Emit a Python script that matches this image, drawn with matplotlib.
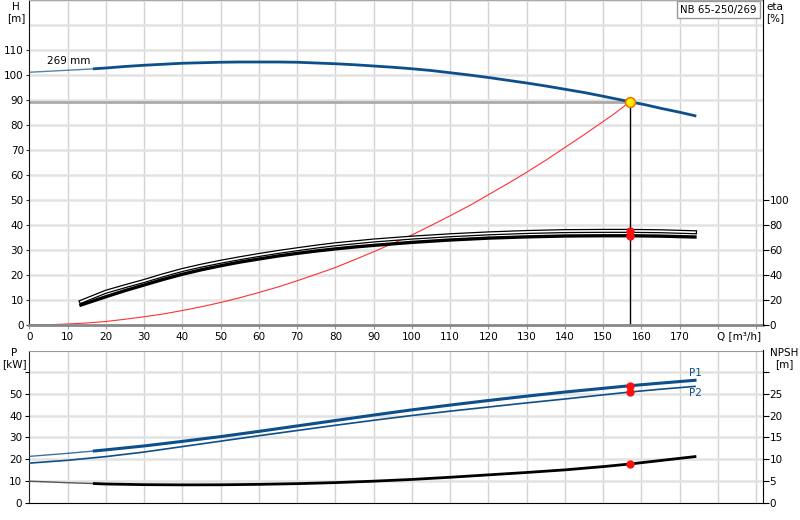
import matplotlib
matplotlib.use("Agg")
import numpy as np
import matplotlib.pyplot as plt

# head curve (m)
q_head = [0, 5, 10, 15, 17, 20, 25, 30, 35, 40, 45, 50, 55, 60, 65, 70, 75, 80, 85, 90, 95,
          100, 105, 110, 115, 120, 125, 130, 135, 140, 145, 150, 157, 161, 165, 170, 174]
head = [101.1, 101.5, 101.9, 102.3, 102.5, 102.8, 103.4, 103.9, 104.3, 104.7, 104.9, 105.1,
        105.2, 105.2, 105.2, 105.1, 104.8, 104.5, 104.1, 103.6, 103.1, 102.5, 101.8, 100.9,
        100.0, 99.0, 97.9, 96.8, 95.6, 94.3, 93.0, 91.5, 89.3, 88.1, 86.7, 85.1, 83.7]

# efficiency curves (%)
q_eta = [13.5, 20, 25, 30, 35, 40, 45, 50, 55, 60, 65, 70, 75, 80, 85, 90, 100, 110, 120,
         130, 140, 150, 157, 165, 174]
eta_upper = [18.6, 26.6, 31.0, 35.2, 39.8, 44.0, 47.5, 50.6, 53.4, 56.0, 58.4, 60.6, 62.7,
             64.6, 66.1, 67.6, 69.9, 71.8, 73.3, 74.4, 75.1, 75.3, 75.3, 75.0, 74.2]
eta_lower = [16.0, 22.6, 27.5, 32.0, 36.5, 40.6, 44.2, 47.4, 50.3, 52.8, 55.2, 57.3, 59.2,
             60.9, 62.4, 63.7, 66.1, 68.0, 69.5, 70.5, 71.2, 71.4, 71.4, 71.1, 70.4]

# system curve (m)
q_sys = [0, 5, 10, 15, 20, 25, 30, 35, 40, 45, 50, 55, 60, 65, 70, 75, 80, 85, 90, 95, 100,
         105, 110, 115, 120, 125, 130, 135, 140, 145, 150, 153, 157]
h_sys = [0, 0.1, 0.4, 0.8, 1.4, 2.3, 3.3, 4.4, 5.8, 7.3, 9.0, 10.9, 13.0, 15.2, 17.7, 20.3,
         23.0, 26.1, 29.3, 32.6, 36.0, 39.8, 43.7, 47.7, 52.1, 56.5, 61.1, 65.9, 71.0, 76.1,
         81.4, 84.6, 89.3]

# duty point
q_duty = 157
h_duty = 89.3
eta_duty = [75.3, 71.4]

# power (kW) and NPSH (m)
q_p = [0, 10, 17, 20, 30, 40, 50, 60, 70, 80, 90, 100, 110, 120, 130, 140, 150, 157, 165, 174]
p1 = [21.3, 22.7, 23.8, 24.3, 26.1, 28.2, 30.4, 32.8, 35.3, 37.8, 40.3, 42.7, 44.9, 47.0,
      49.0, 50.9, 52.6, 53.8, 55.0, 56.3]
p2 = [18.2, 19.5, 20.7, 21.2, 23.3, 25.8, 28.3, 30.8, 33.2, 35.6, 37.9, 40.1, 42.1, 44.0,
      45.9, 47.7, 49.6, 50.9, 52.2, 53.5]
npsh = [4.95, 4.6, 4.4, 4.3, 4.15, 4.1, 4.12, 4.22, 4.38, 4.62, 4.95, 5.35, 5.85, 6.4, 6.95,
        7.55, 8.3, 8.9, 9.7, 10.6]
p_duty = [53.8, 50.9]
npsh_duty = 8.9

blue = '#0d4f8b'
grid_h = '#e2e2e2'
grid_v = '#d2d2d2'
fs = 7.5
xmax = 191.7

fig = plt.figure(figsize=(8, 5.2), dpi=100)
ax = fig.add_axes([29.3 / 800, 1 - 325 / 520, (762.7 - 29.3) / 800, 325 / 520])
ax2 = ax.twinx()

ax.set_xlim(0, xmax)
ax.set_ylim(0, 130)
ax2.set_ylim(0, 260)
for v in range(10, 191, 10):
    ax.axvline(v, color=grid_v, lw=1, zorder=0)
for h in range(10, 131, 10):
    ax.axhline(h, color=grid_h, lw=1.8, zorder=0)

ax.set_xticks(range(0, 191, 10))
ax.set_xticklabels([str(v) if v <= 170 else '' for v in range(0, 191, 10)], fontsize=fs)
ax.set_yticks(range(0, 111, 10))
ax.tick_params(axis='y', labelsize=fs, length=2, color='#333', pad=2)
ax.tick_params(axis='x', length=3, color='#999', pad=2)
ax2.set_yticks(range(0, 101, 20))
ax2.tick_params(axis='y', labelsize=fs, length=4, color='#000', pad=1)

ax.spines['left'].set_color('#111')
ax.spines['bottom'].set_color('#888')
ax.spines['bottom'].set_linewidth(2)
ax.spines['top'].set_color('#aaa')
ax.spines['right'].set_visible(False)
ax2.spines['right'].set_color('#000')
for s in ['left', 'top', 'bottom']:
    ax2.spines[s].set_visible(False)

q_head = np.array(q_head)
head = np.array(head)
ax.axhline(h_duty, xmax=q_duty / xmax, color='#aaaaaa', lw=2, zorder=1)
ax.plot(q_head[q_head <= 17], head[q_head <= 17], color=blue, lw=1, alpha=0.7, zorder=3)
ax.plot(q_head[q_head >= 17], head[q_head >= 17], color=blue, lw=2, zorder=3)
ax.plot(q_sys, h_sys, color='#ff3030', lw=0.8, zorder=2)
ax.plot([q_duty, q_duty], [0, h_duty], color='black', lw=1, zorder=2)

ax2.plot(q_eta, eta_upper, color='black', lw=3, zorder=3)
ax2.plot(q_eta, eta_upper, color='white', lw=1.2, zorder=3)
ax2.plot(q_eta, eta_lower, color='black', lw=2.4, zorder=3)
ax2.plot([q_duty] * 2, eta_duty, 'o', color='#ff1010', ms=5, zorder=5)
ax.plot(q_duty, h_duty, 'o', mfc='#ffee00', mec='#f07800', ms=7, mew=1.2, zorder=6)

ax.text(4.6, 105.7, '269 mm', fontsize=fs, va='center', ha='left')
ax.text(190.2, 126.2, 'NB 65-250/269', fontsize=7.3, va='center', ha='right',
        bbox=dict(boxstyle='square,pad=0.3', fc='white', ec='#999999', lw=1), zorder=7)
ax.text(185.5, -2.5, 'Q [m³/h]', fontsize=fs, va='top', ha='center')
fig.text(16 / 800, 1 - 2 / 520, 'H\n[m]', fontsize=fs, ha='center', va='top', linespacing=1.1)
fig.text(775 / 800, 1 - 2 / 520, 'eta\n[%]', fontsize=fs, ha='center', va='top', linespacing=1.1)

# lower panel
bx = fig.add_axes([29.3 / 800, 1 - 502.7 / 520, (762.7 - 29.3) / 800, (502.7 - 350.5) / 520])
bx2 = bx.twinx()
bx.set_xlim(0, xmax)
bx.set_ylim(0, 70)
bx2.set_ylim(0, 35)
for v in range(10, 191, 10):
    bx.axvline(v, color=grid_v, lw=1, zorder=0)
for h in range(10, 61, 10):
    bx.axhline(h, color=grid_h, lw=1.8, zorder=0)
bx.set_xticks([])
bx.set_yticks(range(0, 61, 10))
bx.set_yticklabels([str(v) if v <= 50 else '' for v in range(0, 61, 10)], fontsize=fs)
bx.tick_params(axis='y', length=3, color='#000', pad=2)
bx2.set_yticks(range(0, 31, 5))
bx2.set_yticklabels([str(v) if v <= 25 else '' for v in range(0, 31, 5)], fontsize=fs)
bx2.tick_params(axis='y', length=4, color='#000', pad=1)
bx.spines['top'].set_color('#999')
bx.spines['left'].set_color('#222')
bx.spines['bottom'].set_color('#000')
bx.spines['right'].set_visible(False)
for s in ['left', 'top', 'bottom']:
    bx2.spines[s].set_visible(False)
bx2.spines['right'].set_color('#000')

q_p = np.array(q_p)
p1 = np.array(p1)
p2 = np.array(p2)
npsh = np.array(npsh)
lo = q_p <= 17
hi = q_p >= 17
bx.plot(q_p[lo], p1[lo], color=blue, lw=1, alpha=0.8, zorder=3)
bx.plot(q_p[hi], p1[hi], color=blue, lw=2.2, zorder=3)
bx.plot(q_p, p2, color=blue, lw=1.2, zorder=3)
bx2.plot(q_p[lo], npsh[lo], color='#555', lw=1, zorder=3)
bx2.plot(q_p[hi], npsh[hi], color='black', lw=2, zorder=3)
bx.plot([q_duty] * 2, p_duty, 'o', color='#ff1010', ms=5, zorder=5)
bx2.plot(q_duty, npsh_duty, 'o', color='#ff1010', ms=5, zorder=5)
bx.text(174, 59.5, 'P1', fontsize=fs, color=blue, ha='center', va='center')
bx.text(174, 50.5, 'P2', fontsize=fs, color=blue, ha='center', va='center')
fig.text(14 / 800, 1 - 348 / 520, 'P\n[kW]', fontsize=fs, ha='center', va='top', linespacing=1.1)
fig.text(784 / 800, 1 - 348 / 520, 'NPSH\n[m]', fontsize=fs, ha='center', va='top', linespacing=1.1)

fig.savefig('out.png', dpi=100)
